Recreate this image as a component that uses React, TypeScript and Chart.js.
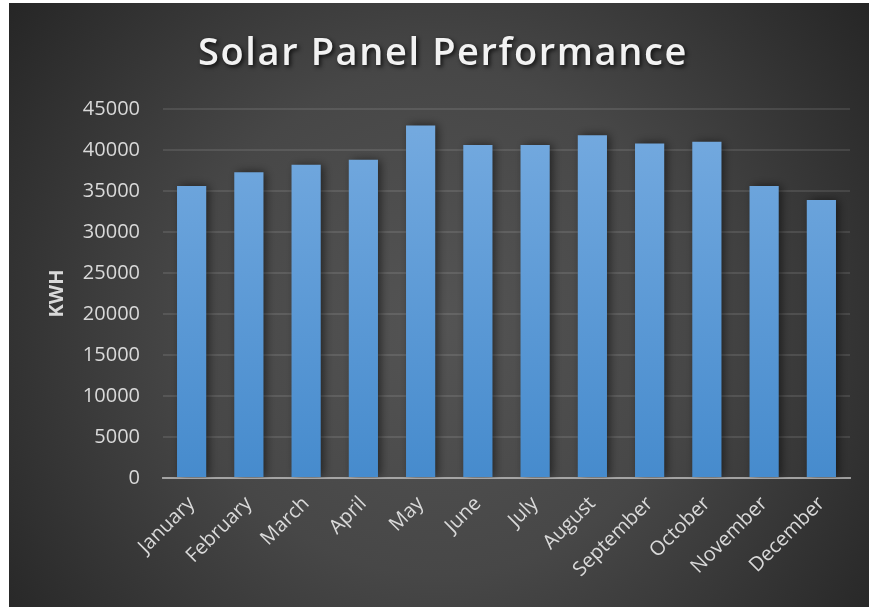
import React, { useEffect, useRef } from "react";
import { Chart, registerables } from "chart.js";

Chart.register(...registerables);

const categories = [
  "January", "February", "March", "April", "May", "June",
  "July", "August", "September", "October", "November", "December",
];
const kwhValues = [35600, 37300, 38200, 38800, 43000, 40600, 40600, 41800, 40800, 41000, 35600, 33900];
const chartTitle = "Solar Panel Performance";
const yAxisTitle = "KWH";
const yMin = 0;
const yMax = 45000;
const yStep = 5000;

const W = 860;
const H = 604;

const bgPlugin = {
  id: "bgPlugin",
  beforeDraw(chart: any) {
    const { ctx } = chart;
    ctx.save();
    const g = ctx.createRadialGradient(430, 320, 0, 430, 320, 560);
    g.addColorStop(0, "#545454");
    g.addColorStop(0.45, "#474747");
    g.addColorStop(1, "#232323");
    ctx.fillStyle = g;
    ctx.fillRect(0, 0, W, H);
    ctx.restore();
  },
  afterDraw(chart: any) {
    const { ctx } = chart;
    ctx.save();
    ctx.font = "600 38px 'Open Sans'";
    (ctx as any).letterSpacing = "1.6px";
    ctx.textAlign = "center";
    ctx.textBaseline = "alphabetic";
    ctx.shadowColor = "rgba(0,0,0,0.75)";
    ctx.shadowBlur = 4;
    ctx.shadowOffsetX = 2;
    ctx.shadowOffsetY = 2;
    ctx.fillStyle = "#f2f2f2";
    ctx.fillText(chartTitle, 434, 62);
    ctx.restore();
  },
  beforeDatasetsDraw(chart: any) {
    const { ctx } = chart;
    ctx.save();
    ctx.shadowColor = "rgba(0,0,0,0.55)";
    ctx.shadowBlur = 9;
    ctx.shadowOffsetX = 3;
    ctx.shadowOffsetY = 0;
  },
  afterDatasetsDraw(chart: any) {
    chart.ctx.restore();
  },
};

export default function App() {
  const ref = useRef<HTMLCanvasElement | null>(null);
  useEffect(() => {
    if (!ref.current) return;
    const chart = new Chart(ref.current, {
      type: "bar",
      data: {
        labels: categories,
        datasets: [
          {
            label: yAxisTitle,
            data: kwhValues,
            backgroundColor: (c: any) => {
              const area = c.chart.chartArea;
              if (!area) return "#5b9bd5";
              const g = c.chart.ctx.createLinearGradient(0, area.top, 0, area.bottom);
              g.addColorStop(0, "#76abe0");
              g.addColorStop(1, "#468bcd");
              return g;
            },
            borderWidth: 0,
            categoryPercentage: 1,
            barPercentage: 0.51,
          },
        ],
      },
      options: {
        responsive: false,
        animation: false,
        devicePixelRatio: 1,
        layout: { padding: { left: 0, right: 19, top: 106, bottom: 0 } },
        plugins: {
          legend: { display: false },
          title: { display: false },
          tooltip: { enabled: false },
        },
        scales: {
          x: {
            z: 1,
            grid: { display: false, drawTicks: false },
            border: { display: true, color: "rgba(190,190,190,0.75)", width: 2 },
            ticks: {
              color: "#d9d9d9",
              font: { family: "'Open Sans'", size: 20 },
              maxRotation: 45,
              minRotation: 45,
              padding: 14,
              autoSkip: false,
            },
            afterFit(scale: any) {
              scale.height = 129;
            },
          },
          y: {
            min: yMin,
            max: yMax,
            grid: { color: "rgba(255,255,255,0.1)", lineWidth: 2, drawTicks: false },
            border: { display: false },
            ticks: {
              stepSize: yStep,
              color: "#d9d9d9",
              font: { family: "'Open Sans'", size: 20 },
              padding: 23,
              callback: (v: any) => String(v),
            },
            title: {
              display: true,
              text: yAxisTitle,
              color: "#d9d9d9",
              font: { family: "'Open Sans'", size: 20, weight: "bold" },
              padding: { top: 36, bottom: 0 },
            },
            afterFit(scale: any) {
              scale.width = 154;
            },
          },
        },
      },
      plugins: [bgPlugin],
    } as any);
    return () => chart.destroy();
  }, []);

  return (
    <div style={{ position: "absolute", left: 9, top: 3, width: W, height: H }}>
      <canvas ref={ref} width={W} height={H} style={{ display: "block", width: W, height: H }} />
    </div>
  );
}
